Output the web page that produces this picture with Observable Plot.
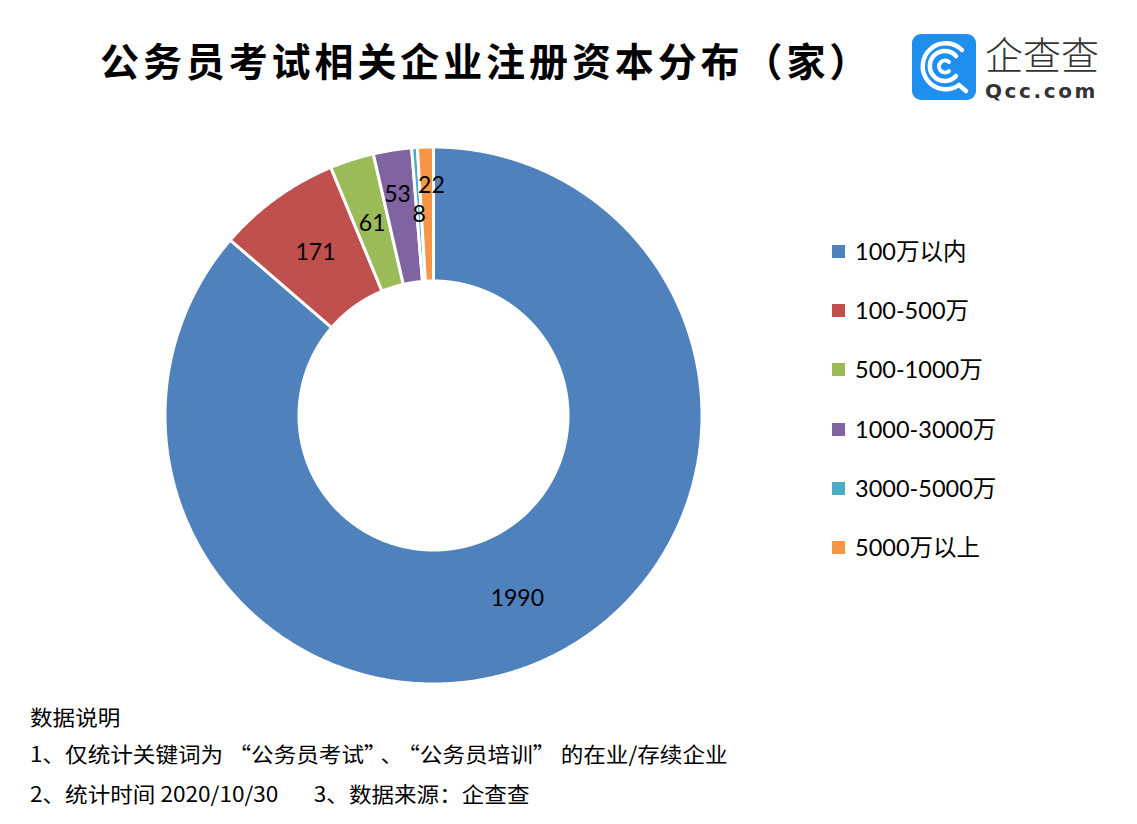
<!DOCTYPE html>
<html lang="zh-CN">
<head>
<meta charset="utf-8">
<script src="https://cdn.jsdelivr.net/npm/d3@7"></script>
<script src="https://cdn.jsdelivr.net/npm/@observablehq/plot@0.6"></script>
<style>
  html, body { margin: 0; padding: 0; background: #fff; }
  #page { position: relative; width: 1137px; height: 824px; overflow: hidden; background: #fff;
          font-family: "Lato", "Noto Sans CJK SC", sans-serif; color: #000; }
  #title { position: absolute; left: 100px; top: 38px; font-size: 39px; line-height: 42px; font-weight: 700;
           letter-spacing: 3.9px; font-family: "Noto Sans CJK SC", sans-serif; white-space: nowrap; }
  #title .half { font-feature-settings: "halt" 1; letter-spacing: 0; }
  #chart { position: absolute; left: 0; top: 130px; }
  #legend { position: absolute; left: 832px; top: 0; }
  .lg { position: absolute; left: 0; white-space: nowrap; font-size: 23.5px; line-height: 26px; height: 26px; }
  .lg .sw { position: absolute; left: 0; top: 7px; width: 13px; height: 13px; }
  .lg .tx { position: absolute; left: 23px; top: 0; }
  #notes { position: absolute; left: 30px; top: 0; font-family: "Noto Sans CJK SC", sans-serif; font-size: 21px; }
  #notes > div { position: absolute; left: 0; white-space: pre; line-height: 24px; transform-origin: left center; transform: scaleX(1.075); }
  #notes .ql { padding-left: 5px; }
  #notes .qr { padding-right: 5px; }
  #logo { position: absolute; left: 912px; top: 34px; }
  #logo .brand { position: absolute; left: 73px; top: 0px; font-size: 38px; line-height: 38px; height: 38px; font-weight: 300; color: #333;
                 font-family: "Noto Sans CJK SC", sans-serif; letter-spacing: 0px; white-space: nowrap; }
  #logo .dom { position: absolute; left: 73px; top: 47px; font-size: 20px; line-height: 20px; height: 20px; font-weight: 700; color: #333;
               font-family: "DejaVu Sans", sans-serif; letter-spacing: 2.6px; white-space: nowrap; }
</style>
</head>
<body>
<div id="page">
  <div id="title"></div>
  <div id="logo">
    <svg width="64" height="66" viewBox="0 0 64 66">
      <rect x="0" y="0" width="64" height="66" rx="9" fill="#1E8FEF"/>
      <path d="M44 22 A15 15 0 1 0 44 42" fill="none" stroke="#fff" stroke-width="4.5" stroke-linecap="round"/>
      <path d="M50 16 A23 23 0 1 0 47 51 L54 57" fill="none" stroke="#fff" stroke-width="4.5" stroke-linecap="round"/>
      <path d="M37 28 A6 6 0 1 0 37 37" fill="none" stroke="#fff" stroke-width="4" stroke-linecap="round"/>
    </svg>
    <div class="brand">企查查</div>
    <div class="dom">Qcc.com</div>
  </div>
  <div id="chart"></div>
  <div id="legend"></div>
  <div id="notes"></div>
</div>
<script>
// ---- data ----
const titleText = "公务员考试相关企业注册资本分布（家）";
const categories = ["100万以内", "100-500万", "500-1000万", "1000-3000万", "3000-5000万", "5000万以上"];
const counts = [1990, 171, 61, 53, 8, 22];
const colors = ["#4F81BD", "#C0504D", "#9BBB59", "#8064A2", "#4BACC6", "#F79646"];
const notes = [
  "数据说明",
  "1、仅统计关键词为“公务员考试”、“公务员培训”的在业/存续企业",
  "2、统计时间 2020/10/30       3、数据来源：企查查"
];

// ---- layout constants ----
const W = 820, H = 570, CX = 433, CY = 285;
const R_OUT = 268.5, R_IN = 134.5, R_LABEL = 201.5;

// title (closing bracket set as half-width)
const titleEl = document.getElementById("title");
titleEl.appendChild(document.createTextNode(titleText.slice(0, -1)));
const lastSpan = document.createElement("span");
lastSpan.className = "half";
lastSpan.textContent = titleText.slice(-1);
titleEl.appendChild(lastSpan);

const data = categories.map((c, i) => ({category: c, count: counts[i]}));
const arcs = d3.pie().sort(null).value(d => d.count)(data);

// polygon vertices of each donut slice
const polys = [];
arcs.forEach(a => {
  const n = Math.max(2, Math.ceil((a.endAngle - a.startAngle) / 0.005));
  const pts = [];
  for (let k = 0; k <= n; k++) {
    const t = a.startAngle + (a.endAngle - a.startAngle) * k / n;
    pts.push([R_OUT * Math.sin(t), R_OUT * Math.cos(t)]);
  }
  for (let k = n; k >= 0; k--) {
    const t = a.startAngle + (a.endAngle - a.startAngle) * k / n;
    pts.push([R_IN * Math.sin(t), R_IN * Math.cos(t)]);
  }
  pts.push(pts[0]);
  pts.forEach(p => polys.push({category: a.data.category, x: p[0], y: p[1]}));
});

const labels = arcs.map(a => {
  const m = (a.startAngle + a.endAngle) / 2;
  return {category: a.data.category, count: a.data.count, x: R_LABEL * Math.sin(m), y: R_LABEL * Math.cos(m)};
});

const textOpts = {x: "x", y: "y", text: d => String(d.count), fontSize: 23, fill: "#000",
                  fontFamily: "Lato, 'Noto Sans CJK SC', sans-serif"};

const chart = Plot.plot({
  width: W, height: H, margin: 0,
  x: {domain: [-CX, W - CX], axis: null},
  y: {domain: [-(H - CY), CY], axis: null},
  color: {domain: categories, range: colors},
  marks: [
    Plot.line(polys, {x: "x", y: "y", z: "category", fill: "category", stroke: "white",
                      strokeWidth: 3, strokeLinejoin: "miter", curve: "linear"}),
    Plot.text(labels.filter(d => d.count !== 53 && d.count !== 22), textOpts),
    Plot.text(labels.filter(d => d.count === 53), {...textOpts, dx: -5, dy: -22}),
    Plot.text(labels.filter(d => d.count === 22), {...textOpts, dx: 4, dy: -28})
  ]
});
document.getElementById("chart").appendChild(chart);

// legend
const legend = document.getElementById("legend");
categories.forEach((c, i) => {
  const row = document.createElement("div");
  row.className = "lg";
  row.style.top = (251 - 13 + i * 59.2) + "px";
  const sw = document.createElement("div");
  sw.className = "sw";
  sw.style.background = colors[i];
  const tx = document.createElement("div");
  tx.className = "tx";
  tx.textContent = c;
  row.appendChild(sw); row.appendChild(tx);
  legend.appendChild(row);
});

// notes (curly quotes padded to full-width cells)
const notesEl = document.getElementById("notes");
const noteY = [716, 753, 793];
notes.forEach((t, i) => {
  const d = document.createElement("div");
  t.split(/([“”])/).forEach(part => {
    if (part === "“" || part === "”") {
      const s = document.createElement("span");
      s.className = part === "“" ? "ql" : "qr";
      s.textContent = part;
      d.appendChild(s);
    } else if (part) {
      d.appendChild(document.createTextNode(part));
    }
  });
  d.style.top = (noteY[i] - 12) + "px";
  notesEl.appendChild(d);
});
</script>
</body>
</html>
